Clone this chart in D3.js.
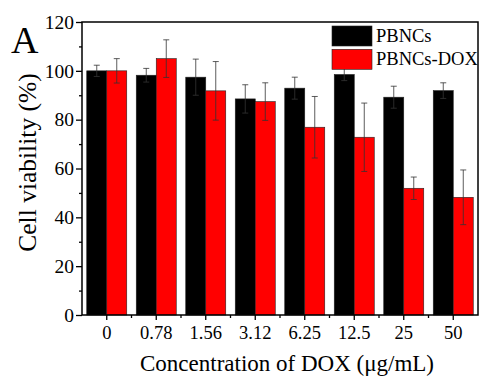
<!DOCTYPE html>
<html>
<head>
<meta charset="utf-8">
<script src="https://cdn.jsdelivr.net/npm/d3@7"></script>
<style>
body { margin: 0; background: #fff; }
text { font-family: "Liberation Serif", "Times New Roman", serif; }
</style>
</head>
<body>
<div class="figure"></div>
<script>
// concentrations of DOX (ug/mL)
var categories = ["0", "0.78", "1.56", "3.12", "6.25", "12.5", "25", "50"]
var series = ["PBNCs", "PBNCs-DOX"]
var pbncs = [100, 98.2, 97.4, 88.5, 92.9, 98.5, 89.2, 91.9]
var pbncsErr = [2.3, 2.8, 7.4, 5.8, 4.5, 2.5, 4.5, 3.2]
var pbncsDox = [100, 105, 91.8, 87.4, 76.9, 72.8, 51.9, 48.2]
var pbncsDoxErr = [5, 7.7, 12, 7.7, 12.6, 14, 4.6, 11.2]
var yTicks = [0, 20, 40, 60, 80, 100, 120]

var colors = ["#000000", "#ff0000"]

var dim = { w: 481, h: 376 }
var margin = { top: 22, bottom: 61, left: 82, right: 3 }
var w = dim.w - margin.left - margin.right,
    h = dim.h - margin.top - margin.bottom

var svg = d3.select("div.figure")
    .append("svg")
    .attr("width", dim.w)
    .attr("height", dim.h)

var g = svg.append("g")
    .attr("transform", "translate(" + margin.left + "," + margin.top + ")")

var xScale = d3.scaleBand()
    .domain(categories)
    .range([0, w])

var yScale = d3.scaleLinear()
    .domain([0, 120])
    .range([h, 0])

var barW = 20
var data = categories.map(function(c, i) {
    return [
        {cat: c, s: 0, v: pbncs[i], e: pbncsErr[i]},
        {cat: c, s: 1, v: pbncsDox[i], e: pbncsDoxErr[i]}
    ]
})
var flat = [].concat.apply([], data)

var barX = function(d) {
    var c = xScale(d.cat) + xScale.bandwidth() / 2
    return d.s === 0 ? c - barW : c
}

g.append("g").selectAll("rect")
    .data(flat).enter()
    .append("rect")
    .attr("x", barX)
    .attr("y", function(d) { return yScale(d.v) })
    .attr("width", barW)
    .attr("height", function(d) { return h - yScale(d.v) })
    .attr("fill", function(d) { return colors[d.s] })
    .attr("stroke", "#222")
    .attr("stroke-width", 0.6)

// error bars
var eb = g.append("g").selectAll("g")
    .data(flat).enter()
    .append("g")
    .attr("transform", function(d) { return "translate(" + (barX(d) + barW / 2) + ",0)" })
eb.append("line")
    .attr("y1", function(d) { return yScale(d.v + d.e) })
    .attr("y2", function(d) { return yScale(d.v - d.e) })
    .attr("stroke", "#333").attr("stroke-width", 0.8)
eb.append("line")
    .attr("x1", -3).attr("x2", 3)
    .attr("y1", function(d) { return yScale(d.v + d.e) })
    .attr("y2", function(d) { return yScale(d.v + d.e) })
    .attr("stroke", "#333").attr("stroke-width", 0.8)
eb.append("line")
    .attr("x1", -3).attr("x2", 3)
    .attr("y1", function(d) { return yScale(d.v - d.e) })
    .attr("y2", function(d) { return yScale(d.v - d.e) })
    .attr("stroke", "#333").attr("stroke-width", 0.8)

// frame
g.append("rect")
    .attr("width", w).attr("height", h)
    .attr("fill", "none").attr("stroke", "#000").attr("stroke-width", 1.5)

// y axis
var yAxis = d3.axisLeft(yScale).tickValues(yTicks).tickSize(6).tickPadding(2)
var ya = g.append("g").call(yAxis)
ya.select(".domain").remove()
ya.selectAll("text").style("font-size", "19.5px").attr("fill", "#000")
    .style("font-family", "Liberation Serif")
ya.selectAll("line").attr("stroke-width", 1.3)
var yMinor = d3.axisLeft(yScale).tickValues(d3.range(10, 120, 20)).tickSize(3).tickFormat("")
var ym = g.append("g").call(yMinor)
ym.select(".domain").remove()
ym.selectAll("line").attr("stroke-width", 1.3)

// x axis
var xAxis = d3.axisBottom(xScale).tickSize(5).tickPadding(6)
var xa = g.append("g").attr("transform", "translate(0," + h + ")").call(xAxis)
xa.select(".domain").remove()
xa.selectAll("text").style("font-size", "18.5px").attr("fill", "#000")
    .style("font-family", "Liberation Serif")
xa.selectAll("line").attr("stroke-width", 1.3)
var xm = g.append("g").attr("transform", "translate(0," + h + ")")
xm.selectAll("line")
    .data(categories.slice(1)).enter()
    .append("line")
    .attr("x1", function(d) { return xScale(d) })
    .attr("x2", function(d) { return xScale(d) })
    .attr("y1", 0).attr("y2", 3)
    .attr("stroke", "#000").attr("stroke-width", 1.3)

// axis titles
g.append("text")
    .attr("x", w / 2 + 7).attr("y", h + 56)
    .attr("text-anchor", "middle")
    .style("font-size", "23px")
    .text("Concentration of DOX (\u03bcg/mL)")
g.append("text")
    .attr("transform", "translate(-46," + (h / 2 - 6) + ") rotate(-90)")
    .attr("text-anchor", "middle")
    .style("font-size", "25.5px")
    .text("Cell viability (%)")

// panel label
svg.append("text")
    .attr("x", 11).attr("y", 53)
    .style("font-size", "38px")
    .text("A")

// legend
var legend = svg.append("g").attr("transform", "translate(332,26)")
var li = legend.selectAll("g").data(series).enter()
    .append("g")
    .attr("transform", function(d, i) { return "translate(0," + (i * 23.3) + ")" })
li.append("rect")
    .attr("width", 40).attr("height", 20)
    .attr("fill", function(d, i) { return colors[i] })
    .attr("stroke", "#222").attr("stroke-width", 0.6)
li.append("text")
    .attr("x", 44).attr("y", 16)
    .style("font-size", "18.5px")
    .text(function(d) { return d })
</script>
</body>
</html>
